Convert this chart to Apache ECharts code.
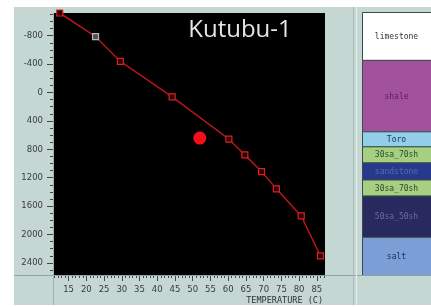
<!DOCTYPE html>
<html><head><meta charset="utf-8">
<script src="https://cdn.jsdelivr.net/npm/echarts@6/dist/echarts.min.js"></script>
<style>html,body{margin:0;padding:0;background:#fff}#c{width:431px;height:307px}</style>
</head><body><div id="c"></div>
<script>
// ---- data ----
const temperature = [12.5, 22.6, 29.6, 44.2, 60.2, 64.7, 69.4, 73.6, 80.6, 86.0];
const depth       = [-1120, -786, -438, 60, 657, 878, 1113, 1357, 1738, 2302];
const greyMarkerIndex = 1;
const measuredTemp  = [52.0];
const measuredDepth = [642];
const yTickLabels = [-800, -400, 0, 400, 800, 1200, 1600, 2000, 2400];
const xTickLabels = [15, 20, 25, 30, 35, 40, 45, 50, 55, 60, 65, 70, 75, 80, 85];
const lithNames  = ['limestone', 'shale', 'Toro', '30sa_70sh', 'sandstone', '30sa_70sh', '50sa_50sh', 'salt'];
const lithTop    = [-1120, -448, 554, 765, 991, 1230, 1456, 2034];
const lithBottom = [-448, 554, 765, 991, 1230, 1456, 2034, 2570];
const lithColors = ['#ffffff', '#a2529c', '#92cdea', '#a6cf82', '#27398c', '#a6cf82', '#27295f', '#7c9ed6'];
const lithText   = ['#333333', '#5b1d5a', '#223355', '#2a4a2a', '#5a6ab0', '#2a4a2a', '#6a6ca0', '#1d2a55'];

const yMin = -1120, yMax = 2570, xMin = 10.6, xMax = 87.3;
const yMinor = []; for (let v = -1100; v <= 2500; v += 100) yMinor.push(v);
const xMinor = []; for (let v = 11; v <= 87; v += 1) xMinor.push(v);

const lineData = temperature.map((t, i) => {
  const d = { value: [t, depth[i]] };
  if (i === greyMarkerIndex) d.itemStyle = { color: '#505050', borderColor: '#b8b8b8' };
  return d;
});

const chart = echarts.init(document.getElementById('c'), null, { renderer: 'canvas' });
const axFont = { fontFamily: 'DejaVu Sans', fontSize: 8.5, color: '#3a3a3a', formatter: v => String(v) };
const noLine = { show: false, onZero: false };
chart.setOption({
  animation: false,
  backgroundColor: '#ffffff',
  grid: [
    { left: 53, top: 13, width: 272, height: 262, show: true, backgroundColor: '#000000', borderWidth: 0 },
    { left: 362, top: 12, width: 70, height: 263, show: false }
  ],
  xAxis: [
    { gridIndex: 0, type: 'value', min: xMin, max: xMax, position: 'bottom',
      axisLine: noLine, splitLine: { show: false },
      axisTick: { show: true, customValues: xTickLabels, length: 6, lineStyle: { color: '#444', width: 1 } },
      axisLabel: Object.assign({ customValues: xTickLabels, margin: 10 }, axFont) },
    { gridIndex: 0, type: 'value', min: xMin, max: xMax, position: 'bottom',
      axisLine: noLine, splitLine: { show: false },
      axisTick: { show: true, customValues: xMinor, length: 3, lineStyle: { color: '#444', width: 1 } },
      axisLabel: { show: false } },
    { gridIndex: 1, type: 'value', min: 0, max: 1, show: false }
  ],
  yAxis: [
    { gridIndex: 0, type: 'value', min: yMin, max: yMax, inverse: true, position: 'left',
      axisLine: noLine, splitLine: { show: false },
      axisTick: { show: true, customValues: yTickLabels, length: 6, lineStyle: { color: '#444', width: 1 } },
      axisLabel: Object.assign({ customValues: yTickLabels, margin: 10 }, axFont) },
    { gridIndex: 0, type: 'value', min: yMin, max: yMax, inverse: true, position: 'left',
      axisLine: noLine, splitLine: { show: false },
      axisTick: { show: true, customValues: yMinor, length: 3, lineStyle: { color: '#444', width: 1 } },
      axisLabel: { show: false } },
    { gridIndex: 1, type: 'value', min: yMin, max: yMax, inverse: true, show: false }
  ],
  graphic: [
    { type: 'rect', z: -10, shape: { x: 14, y: 7, width: 417, height: 298 }, style: { fill: '#c4d7d3' } },
    { type: 'line', z: 10, shape: { x1: 14, y1: 275.5, x2: 431, y2: 275.5 }, style: { stroke: '#8fa3a0', lineWidth: 1 } },
    { type: 'line', z: 10, shape: { x1: 53.5, y1: 13, x2: 53.5, y2: 305 }, style: { stroke: '#9fb3b0', lineWidth: 1 } },
    { type: 'line', z: 10, shape: { x1: 353.5, y1: 7, x2: 353.5, y2: 305 }, style: { stroke: '#a9bcb8', lineWidth: 1 } },
    { type: 'line', z: 10, shape: { x1: 356.5, y1: 7, x2: 356.5, y2: 305 }, style: { stroke: '#e4eeec', lineWidth: 1 } },
    { type: 'text', z: 20, x: 240, y: 30, style: { text: 'Kutubu-1', fill: '#e6e6e6', font: '24px "Open Sans"', textAlign: 'center', textVerticalAlign: 'middle' } },
    { type: 'text', z: 20, x: 323, y: 301, style: { text: 'TEMPERATURE (C)', fill: '#333333', font: '8.5px "DejaVu Sans Mono"', textAlign: 'right', textVerticalAlign: 'middle' } }
  ],
  series: [
    { type: 'line', xAxisIndex: 0, yAxisIndex: 0, data: lineData, clip: false,
      symbol: 'rect', symbolSize: 6,
      lineStyle: { color: '#b5141c', width: 1.5 },
      itemStyle: { color: '#2a0000', borderColor: '#d8202a', borderWidth: 1.2 } },
    { type: 'scatter', xAxisIndex: 0, yAxisIndex: 0, symbolSize: 13,
      data: measuredTemp.map((t, i) => [t, measuredDepth[i]]),
      itemStyle: { color: '#f21018', opacity: 1 } },
    { type: 'custom', xAxisIndex: 2, yAxisIndex: 2,
      data: lithTop.map((t, i) => [t, lithBottom[i], i]),
      renderItem: function (params, api) {
        const i = api.value(2);
        const a = api.coord([0, api.value(0)]);
        const b = api.coord([1, api.value(1)]);
        return { type: 'group', children: [
          { type: 'rect', shape: { x: a[0] + 0.5, y: a[1] + 0.5, width: b[0] - a[0], height: b[1] - a[1] },
            style: { fill: lithColors[i], stroke: '#3c4a48', lineWidth: 1 } },
          { type: 'text', x: (a[0] + b[0]) / 2, y: (a[1] + b[1]) / 2 + 1,
            style: { text: lithNames[i], fill: lithText[i], font: '8px "DejaVu Sans Mono"', textAlign: 'center', textVerticalAlign: 'middle' } }
        ] };
      } }
  ]
});
</script></body></html>
